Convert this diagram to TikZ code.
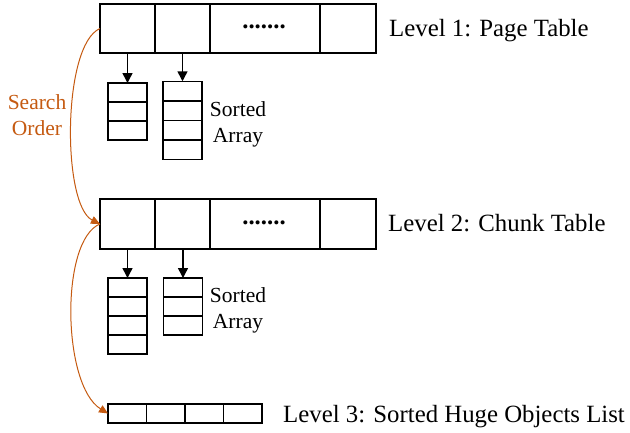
\documentclass[tikz,border=0pt]{standalone}
\usepackage{fontspec}
\setmainfont{Liberation Serif}
\usetikzlibrary{arrows.meta}
\definecolor{sorange}{RGB}{197,90,17}
\tikzset{
  cellbox/.style={draw=black, line width=1.5pt, inner sep=0pt, outer sep=0pt, minimum height=#1},
  tcell/.style={cellbox=49pt},
  acell/.style={cellbox=19pt, minimum width=39pt},
  levtext/.style={inner sep=0pt, anchor=base west, font=\fontsize{24.8}{30}\selectfont},
  smalltext/.style={inner sep=0pt, align=center, font=\fontsize{21.5}{26}\selectfont},
  dotstext/.style={inner sep=0pt, anchor=base, font=\fontsize{24.8}{30}\selectfont\bfseries},
  blackarr/.style={line width=1.5pt, -{Triangle[length=10pt,width=10pt]}},
  orangearr/.style={draw=sorange, line width=1pt, -{Triangle[length=9pt,width=8pt]}, sorange}
}
\begin{document}
\begin{tikzpicture}[x=1pt,y=-1pt]
\useasboundingbox (0,0) rectangle (630,432);
% Level 1 table
\node[tcell, minimum width=55pt] (l1a) at (127.5,28.5) {};
\node[tcell, minimum width=55pt] (l1b) at (182.5,28.5) {};
\node[tcell, minimum width=110pt] (l1c) at (265,28.5) {};
\node[tcell, minimum width=56pt] (l1d) at (348,28.5) {};
\node[dotstext] (l1dots) at (264,28.5) {.......};
\node[levtext] (l1label) at (389,36) {Level 1: Page Table};
% Level 1 arrays
\node[acell] (a1c1) at (127.5,92.5) {};
\node[acell] (a1c2) at (127.5,111.5) {};
\node[acell] (a1c3) at (127.5,130.5) {};
\node[acell, minimum height=19.5pt] (b1c1) at (182.5,91) {};
\node[acell, minimum height=19.5pt] (b1c2) at (182.5,110.5) {};
\node[acell, minimum height=19.5pt] (b1c3) at (182.5,130) {};
\node[acell, minimum height=19.5pt] (b1c4) at (182.5,149.5) {};
\node[smalltext] (sa1) at (238,124) {Sorted\\Array};
\draw[blackarr] (l1a.south) -- (a1c1.north);
\draw[blackarr] (l1b.south) -- (b1c1.north);
% Level 2 table
\node[tcell, minimum height=50pt, minimum width=55pt] (l2a) at (127.5,224) {};
\node[tcell, minimum height=50pt, minimum width=55pt] (l2b) at (182.5,224) {};
\node[tcell, minimum height=50pt, minimum width=110pt] (l2c) at (265,224) {};
\node[tcell, minimum height=50pt, minimum width=56pt] (l2d) at (348,224) {};
\node[dotstext] (l2dots) at (264,224.5) {.......};
\node[levtext] (l2label) at (388,231.5) {Level 2: Chunk Table};
% Level 2 arrays
\node[acell] (a2c1) at (127.5,287.5) {};
\node[acell] (a2c2) at (127.5,306.5) {};
\node[acell] (a2c3) at (127.5,325.5) {};
\node[acell] (a2c4) at (127.5,344.5) {};
\node[acell] (b2c1) at (183,287.5) {};
\node[acell] (b2c2) at (183,306.5) {};
\node[acell] (b2c3) at (183,325.5) {};
\node[smalltext] (sa2) at (238,310) {Sorted\\Array};
\draw[blackarr] (l2a.south) -- (a2c1.north);
\draw[blackarr] (l2b.south -| b2c1.north) -- (b2c1.north);
% Level 3 list
\node[acell, minimum width=38.5pt] (l3a) at (127.25,413.5) {};
\node[acell, minimum width=38.5pt] (l3b) at (165.75,413.5) {};
\node[acell, minimum width=38.5pt] (l3c) at (204.25,413.5) {};
\node[acell, minimum width=38.5pt] (l3d) at (242.75,413.5) {};
\node[levtext] (l3label) at (283,422) {Level 3: Sorted Huge Objects List};
% Search order
\node[smalltext, text=sorange] (search) at (37,115) {Search\\Order};
\draw[orangearr] (l1a.west) .. controls (62,45) and (62,205) .. (l2a.west);
\draw[orangearr] (l2a.west) .. controls (60,240) and (62,385) .. (l3a.west);
\end{tikzpicture}
\end{document}
